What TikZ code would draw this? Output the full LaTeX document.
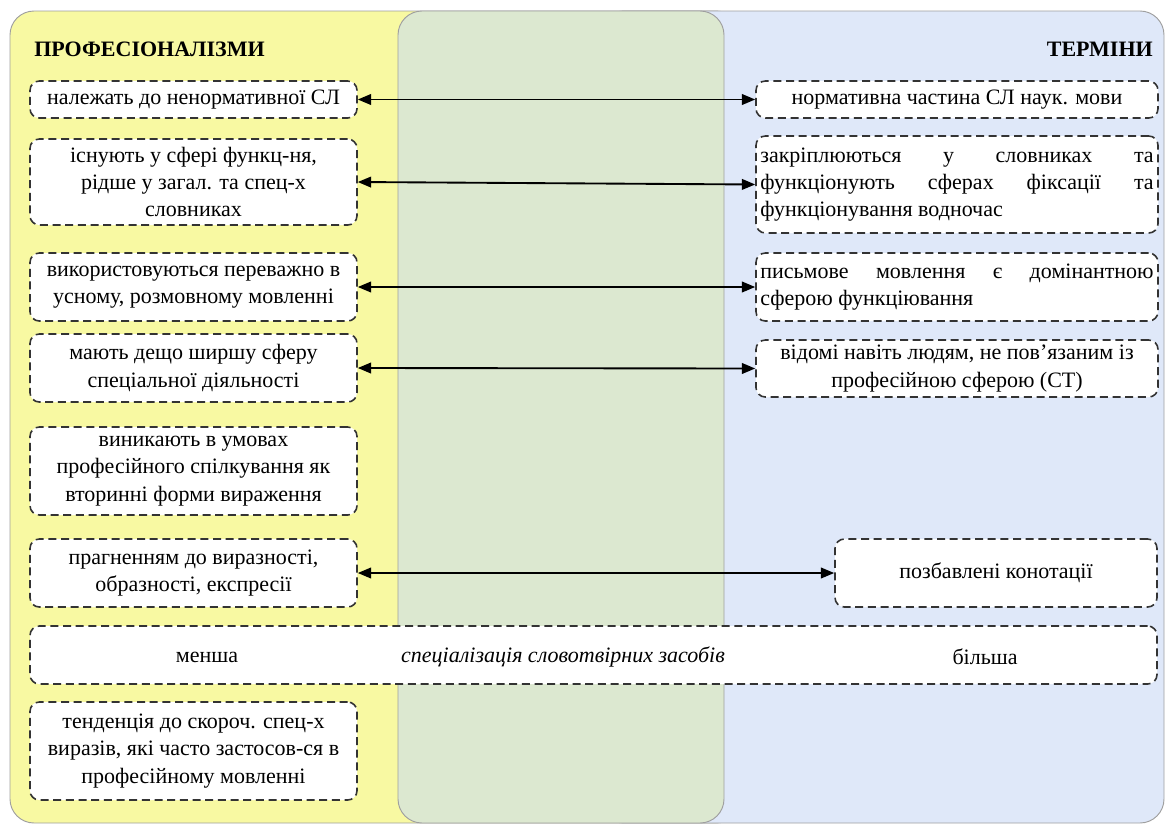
\documentclass[tikz,border=0pt]{standalone}
\usepackage{fontspec}
\setmainfont{Liberation Serif}
\usetikzlibrary{arrows.meta}
\definecolor{yel}{HTML}{F8F9A2}
\definecolor{grn}{HTML}{DCE8D0}
\definecolor{blu}{HTML}{DFE8F9}
\definecolor{edge}{HTML}{333333}
\newcommand\jln[1]{\makebox[295pt][s]{#1}}
\begin{document}
\begin{tikzpicture}[x=0.75pt,y=-0.75pt,
  font=\fontsize{16.5}{20.5}\selectfont,
  panel/.style={draw=gray!75, line width=0.7pt, rounded corners=18pt},
  box/.style={draw=edge, fill=white, dash pattern=on 6pt off 3.5pt, line width=1.2pt,
    rounded corners=7pt, align=center, inner sep=0pt},
  lbox/.style={box, minimum width=245.25pt},
  rbox/.style={box, minimum width=301.5pt},
  title/.style={font=\fontsize{16.5}{20.5}\selectfont\bfseries, inner sep=0pt},
  plain/.style={inner sep=0pt},
  link/.style={line width=1.4pt, {Triangle[length=10pt,width=8pt]}-{Triangle[length=10pt,width=8pt]}}]
\useasboundingbox (0,0) rectangle (1167,825);
% panels
\path[panel, fill=yel] (10,11) rectangle (740,823);
\path[panel, fill=blu] (600,11) rectangle (1164,823);
\path[panel, fill=grn] (398,11) rectangle (724,823);
% titles
\node[title, anchor=west] (tp) at (34,49) {ПРОФЕСІОНАЛІЗМИ};
\node[title, anchor=east] (tt) at (1153,49) {ТЕРМІНИ};
% left boxes
\node[lbox, minimum height=27.75pt] (L1) at (193.5,99.5) {належать до ненормативної СЛ};
\node[lbox, minimum height=64.5pt] (L2) at (193.5,182) {існують у сфері функц-ня,\\ рідше у загал. та спец-х\\ словниках};
\node[lbox, minimum height=51pt] (L3) at (193.5,287) {використовуються переважно в\\ усному, розмовному мовленні};
\node[lbox, minimum height=51pt] (L4) at (193.5,368) {мають дещо ширшу сферу\\ спеціальної діяльності};
\node[lbox, minimum height=66pt] (L5) at (193.5,471) {виникають в умовах\\ професійного спілкування як\\ вторинні форми вираження};
\node[lbox, minimum height=51pt] (L6) at (193.5,573) {прагненням до виразності,\\ образності, експресії};
\node[lbox, minimum height=73.5pt] (L8) at (193.5,751) {тенденція до скороч. спец-х\\ виразів, які часто застосов-ся в\\ професійному мовленні};
% right boxes
\node[rbox, minimum height=27.75pt] (R1) at (957,99.5) {нормативна частина СЛ наук. мови};
\node[rbox, minimum height=72.75pt, align=left] (R2) at (957,184.5) {\jln{закріплюються у словниках та}\\ \jln{функціонують сферах фіксації та}\\ функціонування водночас};
\node[rbox, minimum height=51pt, align=left] (R3) at (957,287) {\jln{письмове мовлення є домінантною}\\ сферою функціювання};
\node[rbox, minimum height=42.75pt] (R4) at (957,368.5) {відомі навіть людям, не пов’язаним із\\ професійною сферою (СТ)};
\node[box, minimum width=241.5pt, minimum height=51pt] (R6) at (996,573) {позбавлені конотації};
% wide box
\node[box, minimum width=845.25pt, minimum height=43.5pt] (W) at (593.5,655) {};
\node[plain] (Wl) at (207,657) {менша};
\node[plain, font=\fontsize{16.5}{20.5}\selectfont\itshape] (Wm) at (563,657) {спеціалізація словотвірних засобів};
\node[plain] (Wr) at (985,657) {більша};
% connectors
\draw[link] (L1.east) -- (R1.west);
\draw[link] (L2.east) -- (R2.west);
\draw[link] (L3.east) -- (R3.west);
\draw[link] (L4.east) -- (R4.west);
\draw[link] (L6.east) -- (R6.west);
\end{tikzpicture}
\end{document}
